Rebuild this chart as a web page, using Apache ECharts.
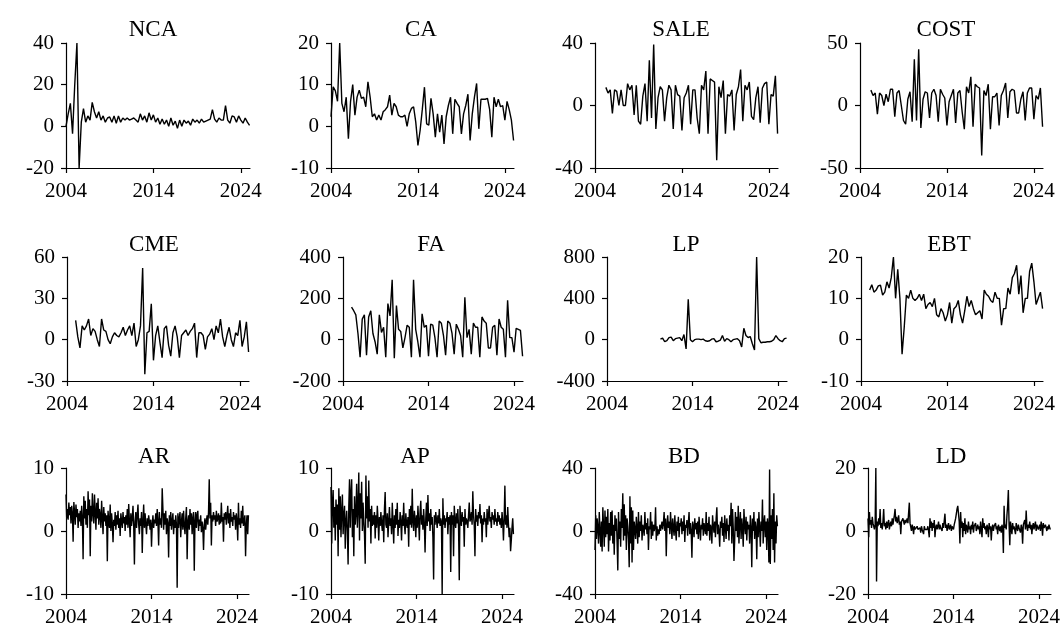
<!DOCTYPE html>
<html>
<head>
<meta charset="utf-8">
<script src="https://cdn.jsdelivr.net/npm/echarts@6/dist/echarts.min.js"></script>
<style>
html,body{margin:0;padding:0;background:#ffffff;}
#chart{width:1063px;height:631px;}
</style>
</head>
<body>
<div id="chart"></div>
<script>
// ---- Quarterly series (one value per quarter) ----
const NCA = [
  0, 6, 11, -3.5,   20, 40, -20, 2,   8.5, 2, 5, 3,   11.5, 7, 4, 7,
  3, 5, 2, 4,       4.5, 2, 5, 1.5,   5, 2, 4, 3,     4, 3, 3.5, 4,
  3, 2, 6, 3,       5, 2, 6.5, 3,     5.5, 2, 4, 1,   3.5, 1, 3, 0,
  4, 0.5, 2.5, -1,  3, 0, 3, 1.5,     2.5, 0.5, 3.5, 2, 3, 1.5, 3.5, 2,
  2.5, 3, 3.5, 8,   3.5, 2, 4, 3,     3, 10, 3, 1.5,  5, 4.5, 2, 5,
  3, 1.5, 4, 2,     0.5
];
const CA = [
  2.3, 9.5, 8.5, 6,   20, 5.5, 3.5, 7,   -3, 6, 10, 2.7,   7, 8.7, 6.7, 7,
  4.7, 10.7, 7, 2.3,  3, 1.5, 2.7, 1.5,  3.5, 4, 4.7, 7.5,  2.7, 5.5, 4.7, 2.7,
  2.3, 2.3, 2.7, 0,   3, 4.3, 4.7, 1,    -4.6, -1, 4, 9.4,  0.6, 0.3, 6.7, 3,
  -2.6, 3, -1.4, 2.7, -4.2, 2.3, 5, 7,   -1.8, 6.5, 5.5, 4.7, -1.8, 3, 5, 7.7,
  -3.4, 3, 7, 10.3,   -0.6, 6.5, 6.5, 6.5, 6.7, 4, -2.6, 7,  4.7, 6.5, 4.7, 5,
  1.5, 6, 4, 1.5,     -3.4
];
const SALE = [
  11.6, 8, 10, -5,    10, 9, 0, 10,      0, 0, 14, 10,      13, -6, 13, -10,
  -12, 6, 14, -10,    29, -8, 39, -15,   5, 12, 10, -10,    5, 13, 10, -15,
  13, 7, 6, -16,      5, 8, 13, -12,     10, 10, -8, -18,   13, 10, 22, -18,
  17, 16, 15, -35,    12, 5, 16, -18,    7, 6, 10, -16,     7, 12, 23, -10,
  13, 10, 15, -7,     -9, 5, 12, -11,    11, 14, 15, -12,   7, 6, 19, -18
];
const COST = [
  12.3, 8, 10, -7,    10, 8, 0, 9,       3, 13, 13, -9,     10, 12, 0, -12,
  -15, 5, 11, -13,    37, -12, 45, -18,  5, 11, 10, -10,    10, 13, 8, -13,
  13, 9, 6, -16,      3, 8, 13, -14,     10, 12, -5, -19,   15, 10, 23, -17,
  17, 15, 14, -40,    12, 8, 17, -19,    7, 7, 10, -16,     8, 12, 18, -10,
  11, 13, 12, -6,     -6, 5, 11, -12,    10, 14, 14, -11,   8, 5, 14, -17
];
const CME = [
  14, 2, -6, 10,      7, 10, 15, 3,      8, 6, 0, -5,       15, 7, 6, 0,
  -3, 2, 5, 3,        2, 5, 9, 3,        7, 10, 3, 12,      -5, 0, 10, 52,
  -25, 5, 6, 26,      -15, 3, 10, -2,    -13, 8, 10, -4,    -12, 5, 10, 2,
  -13, 3, 5, 7,       3, 6, 8, 12,       -13, 5, 5, 3,      -7, 2, 4, 8,
  0, 10, 5, 15,       2, -5, 3, 9,       0, -5, 5, 3,       14, -5, 2, 13,
  -9
];
const FA = [
  157, 140, 120, 30,  -85, 100, 120, -75,  110, 140, 30, -10,  -70, 120, 35, 60,
  -85, 175, 115, 290, -90, 165, 50, 40,    -40, 10, 70, 60,    -85, 290, 50, -10,
  -85, 125, 60, 70,   -80, 75, 70, 10,     -85, 90, 80, 20,    -75, 90, 80, 30,
  -70, 75, 50, 20,    -85, 205, 10, 50,    -70, 80, 60, 60,    -85, 110, 90, 80,
  -40, -40, 60, 70,   -75, 100, 60, 50,    -85, 190, 10, 10,   -60, 55, 50, 45,
  -80
];
const LP = [
  5, 15, -20, -10,    20, 25, -10, 10,     15, 20, -10, 50,    -90, 390, 0, -20,
  0, 5, 5, 0,         5, -10, -15, -10,    5, 10, -20, -15,    -5, 40, -15, 10,
  0, -20, 0, 5,       10, -10, -70, 110,   40, 20, 30, -40,    -100, 800, 10, -30,
  -25, -25, -20, -20, -15, 0, 40, 10,      -10, -20, 10, 15
];
const EBT = [
  12, 13.3, 11.5, 12,   13, 13.2, 10.8, 11.5,  14, 12.5, 15, 20,    10, 17, 10, -3.5,
  3, 10.8, 10, 12,      10, 9.5, 10, 11,       9.5, 11, 7.5, 8.5,   9, 8, 10, 6,
  5.5, 7.5, 6.5, 4.5,   6, 9, 4, 7.5,          8, 9.5, 6, 4,        7, 10.5, 8, 9.5,
  7.5, 6, 6.5, 7,       5, 12, 11, 10.5,       9.5, 9, 11.5, 10,    10, 3.5, 7.5, 7.5,
  12.5, 11, 15, 16,     18, 11, 15.5, 6.5,     10, 10, 16.5, 18.5,  14, 8.5, 10, 11.5,
  7.5
];

// ---- Monthly series (one value per month, Jan 2004 onward) ----
const AR = [
  5.8, 2.0, 3.5, 1.8, 4.5, 2.5, 3.8, 1.2, 4.0, 2.8, -1.7, 4.6,
  3.0, 1.0, 4.2, 2.2, 3.5, 0.5, 2.8, 1.5, 3.2, 0.8, 4.0, 2.0,
  -4.5, 5.5, 2.0, 4.8, 1.0, 3.5, 0.5, 6.3, 2.5, 5.0, -4.0, 4.0,
  1.5, 6.0, 2.8, 1.2, 5.8, 3.0, 0.2, 4.5, 2.0, 5.2, 1.0, 3.5,
  2.5, 0.5, 4.8, 2.0, -0.5, 3.8, 1.5, 2.8, 0.8, 2.5, -4.8, 3.2,
  1.5, 0.5, 4.2, 0.0, 2.8, 1.2, -1.8, 1.8, 0.8, 3.0, 0.2, 2.5,
  1.0, 3.2, 0.5, 2.0, -0.8, 2.8, 1.5, 0.5, 3.0, 1.2, 2.2, 0.0,
  2.5, 1.0, 3.5, 0.5, 4.3, 1.5, -1.0, 2.8, 0.8, 2.0, 4.0, 1.0,
  -5.3, 1.5, 3.0, 0.5, 2.5, 4.2, 1.0, -0.5, 2.0, 0.8, 3.0, -3.5,
  1.5, 4.2, 0.5, 2.8, 1.0, -0.5, 2.0, 0.8, 2.5, 1.5, 0.2, 1.8,
  -2.5, 1.0, 2.5, 0.5, 1.8, 1.2, 2.8, 0.8, 3.5, 1.5, -2.3, 3.0,
  1.0, 2.0, 0.5, 6.8, 3.5, 0.2, 2.8, 1.0, 3.2, -0.5, 2.0, 1.2,
  -4.2, 2.5, 0.8, 3.0, 0.2, 1.5, 2.8, -0.5, 1.8, 0.5, 2.5, 1.0,
  -9.0, 2.8, 0.5, 2.0, 3.0, -1.0, 1.5, 2.8, 0.2, 3.2, 1.0, -0.5,
  2.0, 3.8, -4.5, 1.5, 2.5, 0.2, 3.5, 1.0, 2.8, -0.5, 2.0, 3.0,
  -6.3, 1.5, 3.0, 0.5, 2.5, 3.2, 0.0, 1.8, 0.8, 2.5, -0.2, 1.5,
  0.5, -3.0, 1.0, 2.0, 0.2, 1.5, 2.5, 1.0, 3.0, 8.2, 2.0, 4.5,
  -2.3, 2.5, 1.5, 3.0, 1.8, 2.5, 0.8, 3.2, 1.5, 2.0, 2.8, 1.0,
  2.5, 1.2, 4.5, 1.5, 2.2, -1.7, 2.8, 1.8, 3.0, 1.0, 2.5, 4.0,
  1.2, 2.8, 0.5, 3.5, 1.5, 2.2, 0.8, 3.0, 1.8, 2.5, 0.2, 2.8,
  1.5, -1.5, 4.5, 1.0, 2.0, 0.5, 3.2, 1.2, 4.0, 0.8, 1.5, 2.5,
  -4.0, 1.0, 2.5, -0.5, 2.5
];
const AP = [
  7.0, -2.0, 4.5, 6.5, 0.5, 3.8, -1.5, 5.0, 1.0, 4.2, -4.0, 6.8,
  0.2, 5.5, -1.0, 3.0, 5.8, -0.5, 2.5, 4.0, -2.8, 1.5, 3.2, 0.0,
  -5.3, 4.0, 8.2, 0.5, 6.0, 8.2, -1.0, 3.5, -4.0, 5.5, 1.0, 2.8,
  7.5, 0.5, 3.8, 9.3, -1.5, 6.0, 2.0, 7.8, 0.0, 4.5, 1.5, -0.5,
  -5.2, 8.8, 2.0, 5.5, 0.5, 8.0, 1.5, 3.5, -2.0, 4.0, 0.8, 2.5,
  1.0, 3.0, -1.2, 2.5, 0.5, 4.0, 1.8, -1.5, 2.2, 0.8, 3.0, 1.2,
  0.0, 2.5, -1.8, 3.5, 6.2, 1.0, 0.5, 2.8, -1.0, 1.5, 3.8, 0.8,
  2.0, -0.5, 4.5, 1.2, -2.0, 2.5, 0.5, 3.5, 1.0, 4.5, -0.8, 1.8,
  0.5, 3.0, 1.5, -1.5, 2.5, 0.8, 4.5, 1.0, -0.5, 2.8, 1.2, 0.5,
  2.2, -2.5, 3.5, 1.0, 4.0, 0.5, 6.7, 1.5, 0.0, 3.2, 1.8, -1.0,
  2.5, 0.5, 4.0, 1.5, -1.5, 3.0, 4.8, 1.0, 2.5, 0.2, 3.5, 1.2,
  -3.4, 2.0, 4.5, 0.8, 5.7, 1.5, 2.8, 0.0, 3.5, 1.0, 2.2, -1.0,
  -7.7, 2.5, 1.0, 3.0, 1.8, 0.5, 2.5, 1.2, 3.5, 0.8, 2.0, 1.5,
  -10.0, 5.2, 1.0, 2.5, 0.5, 2.0, 1.5, 3.0, -0.5, 2.2, 1.0, 2.5,
  -6.5, 3.0, 1.0, 2.5, -4.0, 4.0, 1.5, 0.5, 2.8, 1.2, 3.5, 0.5,
  -7.8, 4.0, 2.0, 0.8, 3.0, 1.5, 2.2, -2.5, 3.5, 1.0, 2.0, 1.5,
  0.5, 2.5, 4.5, 1.5, 2.0, 3.0, 1.0, 6.3, 2.5, 1.0, -4.0, 3.5,
  1.5, 2.5, 0.8, 3.0, 2.0, 4.3, 1.2, 2.5, -1.8, 2.0, 1.0, 3.0,
  1.5, 2.0, -1.0, 3.5, 1.0, 2.5, 4.0, 1.5, 2.2, 0.5, 3.0, 1.8,
  2.5, 1.0, 3.5, 1.5, 2.0, 0.8, 3.0, 1.5, 2.5, 1.0, 2.0, 0.5,
  3.0, 1.5, -1.5, 2.0, 7.2, 1.0, 2.5, 0.5, 3.8, 1.2, -1.0, 0.5,
  -3.2, -1.5, 0.5, 2.0, -0.5
];
const BD = [
  -12, 10, -5, 8, 2, -8, 12, 0, -10, 6, -13, 15,
  3, -10, 13, -4, 9, -2, 14, -13, 5, -6, 12, -3,
  13, -8, 4, -15, 10, 0, 8, -7, -25, 12, -5, 6,
  -10, 14, 2, 24, -6, 17, -3, 10, -12, 8, 3, -5,
  -23, 22, -8, 15, -20, 13, -12, 6, 1, -5, 9, 2,
  -8, 12, -4, 6, 0, 10, -6, 4, 2, -3, 12, 1,
  5, -2, 8, -12, 3, 1, 12, -5, 6, -3, 4, 0,
  2, 15, -6, 3, -3, 1, -2, 4, 0, 3, 6, 1,
  5, 12, 0, 8, -16, 4, 10, 2, 6, -2, 12, 3,
  -5, 8, 2, -3, 10, 1, -6, 6, 0, 9, -4, 5,
  3, 8, -2, 6, 0, 10, -7, 4, 2, 7, -3, 5,
  12, -2, 5, 0, -17, 6, 3, -4, 8, 1, 5, -2,
  6, -5, 9, 2, -6, 4, 1, 8, -3, 5, 2, -2,
  12, -3, 5, 0, 9, -6, 4, 2, -8, 10, 3, -1,
  6, -4, 8, 15, -2, 4, 0, -10, 6, 2, 9, -3,
  5, -7, 10, 2, -5, 8, 0, 4, -6, 10, 3, 18,
  -8, 14, 2, -19, -6, 12, 0, 9, -4, 16, -8, 5,
  12, -5, 8, 2, -10, 14, 4, -2, 9, -6, 6, 1,
  4, -8, 10, 2, -23, 8, 0, 12, -5, 6, 2, -18,
  8, -4, 12, 2, -10, 6, 0, 20, -8, 5, 10, -4,
  6, -12, 8, 2, -20, 39, -21, 10, -5, 14, -12, 24,
  -20, 6, -8, 10, 3
];
const LD = [
  4.0, -2.0, 6.0, 2.0, 3.5, 1.0, 4.5, 2.5, 3.0, 0.5, 2.0, 20.0,
  -16.0, 3.0, 1.5, 4.0, 2.0, 7.0, 1.0, 2.5, 0.5, 3.0, 7.0, 1.5,
  2.5, 0.5, 3.0, 1.0, 2.5, 3.5, 0.5, 2.0, 3.0, 1.5, 4.0, 2.0,
  3.5, 5.0, 7.0, 3.0, 4.5, 2.5, 3.5, 5.0, 2.0, 3.0, -1.0, 3.0,
  2.5, 4.0, 3.0, 2.0, 3.5, 2.5, 3.0, 4.0, 2.5, 3.0, 9.0, 2.5,
  3.0, 0.0, 2.0, 1.0, -1.0, 1.5, 0.5, 1.0, 0.0, 1.5, 0.5, 1.0,
  0.0, 1.0, -0.5, 1.5, 0.5, 1.0, -1.0, 1.5, 0.5, 0.0, 1.0, 0.5,
  1.5, 0.0, -2.0, 4.0, 1.0, 3.0, 0.0, 2.5, 1.0, 3.5, -2.0, 1.0,
  2.0, 0.5, 1.5, 3.0, 0.5, 2.0, 1.0, 1.5, 0.0, 2.5, 1.0, 0.5,
  5.5, 1.0, 2.0, 0.0, 1.5, 2.5, 0.5, 1.0, 2.0, 0.0, 1.5, 1.0,
  0.5, 2.0, 3.0, 4.0, 5.5, 7.0, 8.0, 8.5, 3.0, -4.0, 6.0, 1.0,
  3.0, -2.0, 2.5, 0.0, 4.0, -1.0, 2.0, 1.0, -0.5, 3.0, 0.5, 1.5,
  -1.0, 2.0, 0.5, 3.0, -0.5, 1.5, 1.0, 2.5, 0.0, 1.0, 2.0, 0.5,
  1.5, -1.0, 3.0, 0.5, -2.0, 4.0, 1.0, 2.5, 0.5, 1.5, -1.0, 2.0,
  1.0, -2.0, 2.5, 0.5, 1.5, -3.0, 1.0, 2.0, 0.0, 1.5, 1.0, 2.5,
  0.5, 1.5, -1.0, 2.0, 1.0, 0.0, 1.5, -0.5, 2.0, 1.0, -7.0, 8.0,
  1.0, 2.0, 0.5, 5.0, 8.0, 13.0, 2.0, -4.5, 3.0, 1.0, -1.0, 2.5,
  0.5, 1.5, 2.0, -1.0, 2.5, 1.0, 0.0, 2.0, 1.0, 1.5, -0.5, 2.0,
  1.0, -4.0, 2.0, 1.5, 3.5, 0.5, 6.5, 1.5, 0.0, 2.0, 1.0, 3.0,
  0.5, 2.0, -1.0, 1.5, 2.5, 0.5, 1.0, 3.0, 0.0, 2.0, 1.5, 0.5,
  1.0, 2.0, 0.0, 3.0, 1.5, -1.5, 2.5, 1.0, 0.5, 2.0, 1.0, 0.0,
  1.5, 0.5, 2.0, 1.0, 0.5
];

// ---- Axis settings ----
const xTickYears = [2004, 2014, 2024];
const names   = ['NCA','CA','SALE','COST','CME','FA','LP','EBT','AR','AP','BD','LD'];
const series  = [NCA, CA, SALE, COST, CME, FA, LP, EBT, AR, AP, BD, LD];
const starts  = [2004, 2004, 2005.25, 2005.25, 2005, 2005, 2010.25, 2005, 2004, 2004, 2004, 2004];
const perYear = [4, 4, 4, 4, 4, 4, 4, 4, 12, 12, 12, 12];
const yMins   = [-20, -10, -40, -50, -30, -200, -400, -10, -10, -10, -40, -20];
const yMaxs   = [40, 20, 40, 50, 60, 400, 800, 20, 10, 10, 40, 20];
const ySteps  = [20, 10, 40, 50, 30, 200, 400, 10, 10, 10, 40, 20];

// ---- Panel placement (pixels) ----
const rowTop    = [43, 257, 468];
const rowHeight = [125, 124, 126];
const rowXMax   = [2025.05, 2025.05, 2025.4];
const panelLeft  = [66, 331, 595, 860, 67, 343, 607, 861, 66, 331, 595, 868];
const panelWidth = [184, 183, 183, 183, 182, 180, 180, 182, 183, 183, 183, 184];
const titleX = [153, 421, 681, 946, 154, 431, 686, 949, 154, 415, 684, 951];
const titleY = [30, 245, 457];

const FONT = '"Liberation Serif", "Times New Roman", serif';

const grids = [], xAxes = [], yAxes = [], lines = [], texts = [];
names.forEach(function (name, k) {
  const row = Math.floor(k / 4);
  grids.push({
    left: panelLeft[k], top: rowTop[row],
    width: panelWidth[k], height: rowHeight[row],
    containLabel: false
  });
  xAxes.push({
    type: 'value', gridIndex: k, min: 2004, max: rowXMax[row],
    splitLine: { show: false },
    axisLine: { onZero: false, lineStyle: { color: '#000', width: 1.2 } },
    axisTick: { show: true, inside: false, length: 5, customValues: xTickYears,
                lineStyle: { color: '#000', width: 1.2 } },
    axisLabel: { customValues: xTickYears, color: '#000', fontFamily: FONT,
                 fontSize: 21, margin: 13,
                 formatter: function (v) { return String(v); } }
  });
  yAxes.push({
    type: 'value', gridIndex: k,
    min: yMins[k], max: yMaxs[k], interval: ySteps[k],
    splitLine: { show: false },
    axisLine: { show: true, onZero: false, lineStyle: { color: '#000', width: 1.2 } },
    axisTick: { show: true, inside: false, length: 5, lineStyle: { color: '#000', width: 1.2 } },
    axisLabel: { color: '#000', fontFamily: FONT, fontSize: 21, margin: 12,
                 formatter: function (v) { return String(v); } }
  });
  const vals = series[k];
  const pts = vals.map(function (v, i) { return [starts[k] + i / perYear[k], v]; });
  lines.push({
    type: 'line', xAxisIndex: k, yAxisIndex: k, data: pts,
    showSymbol: false, symbol: 'none', silent: true,
    lineStyle: { color: '#000', width: 1.4 }
  });
  texts.push({
    type: 'text', x: titleX[k], y: titleY[row],
    style: { text: name, fill: '#000', font: '23px ' + FONT,
             textAlign: 'center', textVerticalAlign: 'middle' }
  });
});

const chart = echarts.init(document.getElementById('chart'), null, { renderer: 'canvas' });
chart.setOption({
  backgroundColor: '#ffffff',
  animation: false,
  grid: grids,
  xAxis: xAxes,
  yAxis: yAxes,
  series: lines,
  graphic: texts
});
</script>
</body>
</html>
